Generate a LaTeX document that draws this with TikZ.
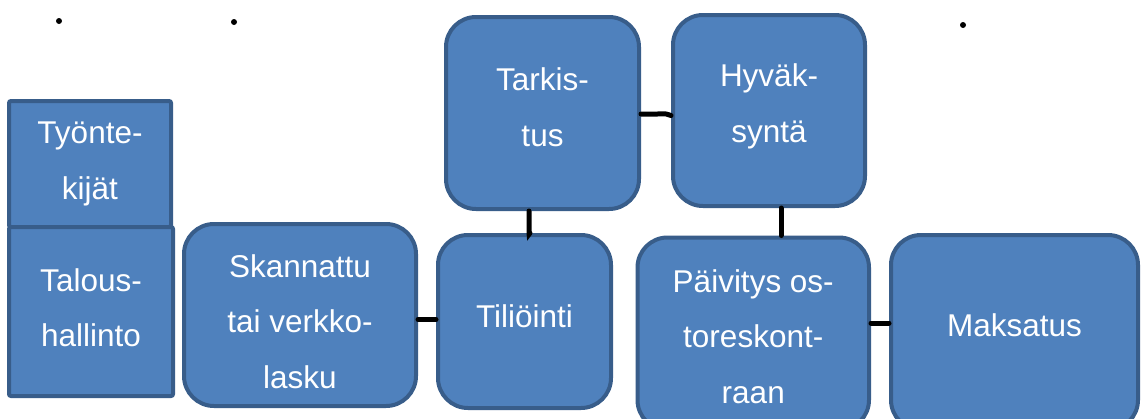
\documentclass[tikz,border=0pt]{standalone}
\usepackage{fontspec}
\setmainfont{Liberation Sans}
\definecolor{boxfill}{RGB}{79,129,189}
\definecolor{boxline}{RGB}{56,93,138}
\begin{document}
\begin{tikzpicture}[x=1pt,y=-1pt,
  box/.style={draw=boxline, fill=boxfill, line width=4pt, rounded corners=30pt, inner sep=0pt},
  sqbox/.style={draw=boxline, fill=boxfill, line width=4pt, rounded corners=2pt, inner sep=0pt},
  txt/.style={text=white, align=center, inner sep=0pt, font=\fontsize{31.5}{55.5}\selectfont},
  conn/.style={draw=black, line width=5pt, line cap=round},
  bullet/.style={circle, fill=black, minimum size=6pt, inner sep=0pt}]
\useasboundingbox[fill=white] (0,0) rectangle (1141,418);
\clip (0,0) rectangle (1141,418);
% bullets
\node[bullet] (d1) at (59,21) {};
\node[bullet] (d2) at (234,22) {};
\node[bullet] (d3) at (963,25) {};
% boxes
\node[sqbox, minimum width=162pt, minimum height=126pt,
  label={[txt]center:Työnte-\\kijät}] (tyo) at (90,164) {};
\node[sqbox, minimum width=164pt, minimum height=169pt,
  label={[txt,yshift=4pt]center:Talous-\\hallinto}] (tal) at (91,311.5) {};
\node[box, minimum width=232pt, minimum height=182pt,
  label={[txt,yshift=-6.7pt]center:Skannattu\\tai verkko-\\lasku}] (skan) at (300,315) {};
\node[box, minimum width=173pt, minimum height=173pt,
  label={[txt,yshift=5.7pt]center:Tiliöinti}] (tili) at (524.5,321.5) {};
\node[box, minimum width=193pt, minimum height=192pt,
  label={[txt,yshift=6pt]center:Tarkis-\\tus}] (tark) at (542.5,113) {};
\node[box, minimum width=192pt, minimum height=191pt,
  label={[txt,yshift=3.9pt]center:Hyväk-\\syntä}] (hyv) at (769,110.5) {};
\node[box, minimum width=231.5pt, minimum height=192.5pt,
  label={[txt,yshift=-2.75pt]center:Päivitys os-\\toreskont-\\raan}] (paiv) at (753.25,333.75) {};
\node[box, minimum width=247pt, minimum height=195pt,
  label={[txt,yshift=7.3pt]center:Maksatus}] (mak) at (1014.5,332.5) {};
% connectors
\draw[conn] ([yshift=-4.5pt]skan.east) -- ([yshift=2pt]tili.west);
\draw[conn] ([xshift=-13.5pt]tark.south) -- ++(0,19) .. controls +(0,5) .. ([xshift=5.5pt]tili.north);
\draw[conn] ([yshift=-1pt]tark.east) -- ++(16,0) .. controls +(10,0) and +(-4,-2) .. ([yshift=-5pt]hyv.west);
\draw[conn] ([xshift=12pt]hyv.south) -- ([xshift=27.75pt]paiv.north);
\draw[conn] ([yshift=10.75pt]paiv.east) -- ([yshift=9.5pt]mak.west);
\end{tikzpicture}
\end{document}
